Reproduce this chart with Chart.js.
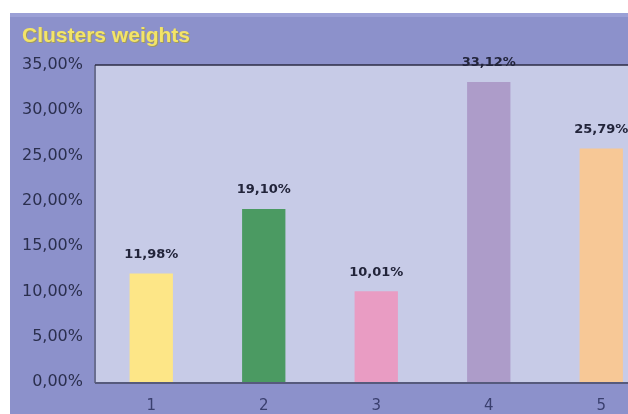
<!DOCTYPE html>
<html>
<head>
<meta charset="utf-8">
<script src="https://cdn.jsdelivr.net/npm/chart.js@4.4.1/dist/chart.umd.min.js"></script>
<style>
  html, body { margin: 0; padding: 0; background: #ffffff; overflow: hidden; }
  #wrap { position: absolute; left: 10px; top: 13px; width: 660px; height: 401px; background: #8c91cb; }
</style>
</head>
<body>
<div id="wrap"><canvas id="myChart"></canvas></div>
<script>
// datos del grafico
const clusters = ["1", "2", "3", "4", "5"];
const pesos = [11.98, 19.10, 10.01, 33.12, 25.79];
const colores = ["#fde687", "#4b9a62", "#e99cc3", "#ad9cc9", "#f7c896"];
const titulo = "Clusters weights";

const fmt = (v) => v.toFixed(2).replace(".", ",") + "%";

// fondo, bordes, titulo y etiquetas
const decoPlugin = {
  id: "deco",
  beforeDraw(chart) {
    const { ctx, chartArea: a } = chart;
    ctx.save();
    // banda clara arriba
    ctx.fillStyle = "#9ba0d6";
    ctx.fillRect(0, 0, chart.width, 4);
    ctx.fillStyle = "#c7cbe7";
    ctx.fillRect(a.left, a.top, a.right - a.left, a.bottom - a.top);
    ctx.restore();
  },
  afterDraw(chart) {
    const { ctx, chartArea: a } = chart;
    ctx.save();
    // bordes
    ctx.lineWidth = 2;
    ctx.strokeStyle = "#6a6e90";
    ctx.beginPath();
    ctx.moveTo(a.left, a.top);
    ctx.lineTo(a.left, a.bottom + 1);
    ctx.stroke();
    ctx.strokeStyle = "#565a7c";
    ctx.beginPath();
    ctx.moveTo(a.left, a.bottom + 1);
    ctx.lineTo(chart.width, a.bottom + 1);
    ctx.stroke();
    ctx.lineWidth = 1.5;
    ctx.strokeStyle = "#2c2d44";
    ctx.beginPath();
    ctx.moveTo(a.left, a.top);
    ctx.lineTo(chart.width, a.top);
    ctx.stroke();

    // titulo
    ctx.font = "bold 21px 'Liberation Sans', Arial, sans-serif";
    ctx.textBaseline = "middle";
    ctx.textAlign = "left";
    ctx.fillStyle = "#a09a60";
    ctx.fillText(titulo, 13, 24);
    ctx.fillStyle = "#f3e468";
    ctx.fillText(titulo, 12, 23);

    // etiquetas de valores
    const meta = chart.getDatasetMeta(0);
    ctx.font = "bold 13px 'DejaVu Sans', sans-serif";
    ctx.textAlign = "center";
    ctx.textBaseline = "middle";
    ctx.fillStyle = "#22243a";
    meta.data.forEach((bar, i) => {
      ctx.fillText(fmt(pesos[i]), bar.x, bar.y - 19);
    });
    ctx.restore();
  },
};

const ctx = document.getElementById("myChart").getContext("2d");

const config = {
  type: "bar",
  data: {
    labels: clusters,
    datasets: [
      {
        label: titulo,
        data: pesos,
        backgroundColor: colores,
        borderWidth: 0,
        barPercentage: 0.385,
        categoryPercentage: 1,
      },
    ],
  },
  options: {
    responsive: false,
    animation: false,
    devicePixelRatio: 1,
    layout: { padding: { top: 52, right: 12.5, left: 0, bottom: 0 } },
    plugins: {
      legend: { display: false },
      title: { display: false },
      tooltip: { enabled: false },
    },
    scales: {
      x: {
        grid: { display: false, drawTicks: false },
        border: { display: false },
        ticks: {
          padding: 15,
          color: "#3a3f6e",
          font: { family: "'DejaVu Sans', sans-serif", size: 15 },
        },
        afterFit: (scale) => { scale.height = 32; },
      },
      y: {
        min: 0,
        max: 35,
        grid: { display: false, drawTicks: false },
        border: { display: false },
        ticks: {
          stepSize: 5,
          padding: 12,
          color: "#2b2f4e",
          font: { family: "'DejaVu Sans', sans-serif", size: 16 },
          callback: (v) => fmt(v),
        },
        afterFit: (scale) => { scale.width = 85; },
      },
    },
  },
  plugins: [decoPlugin],
};

const canvas = document.getElementById("myChart");
canvas.width = 660;
canvas.height = 401;
const myChart = new Chart(ctx, config);
</script>
</body>
</html>
